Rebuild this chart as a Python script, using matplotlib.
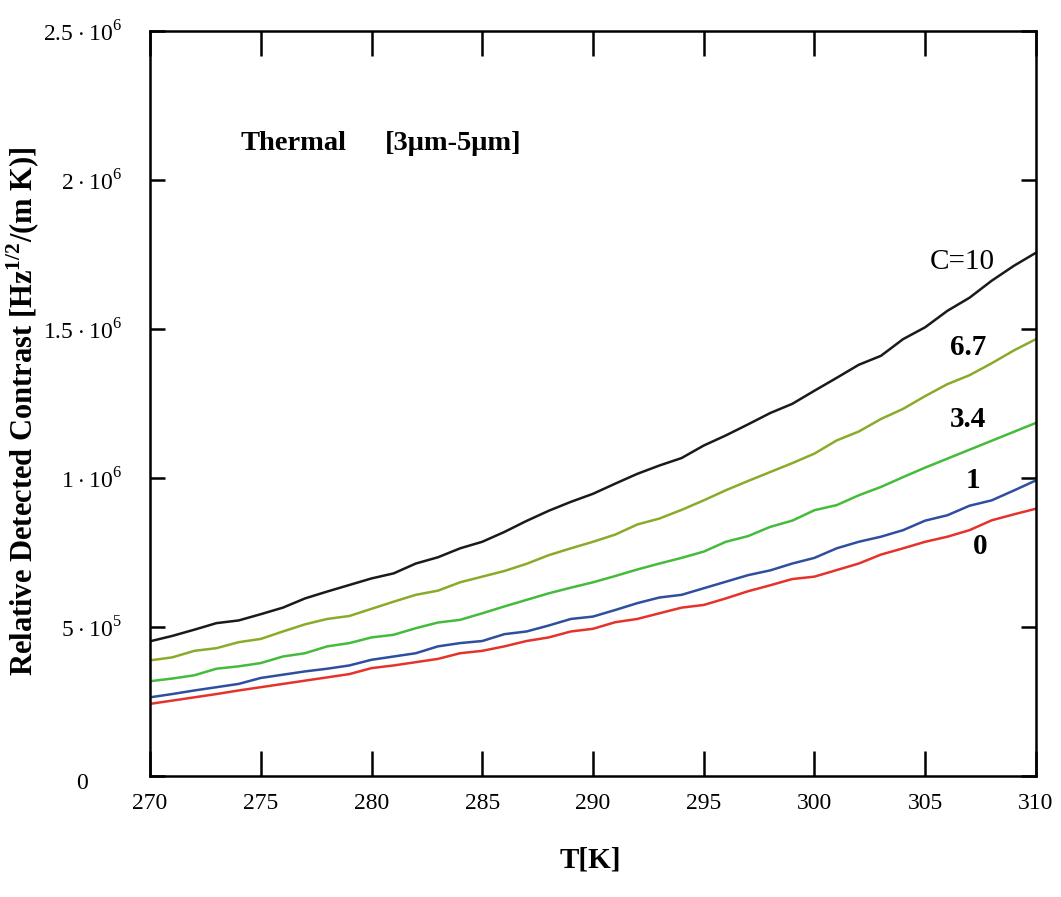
import numpy as np
import matplotlib
matplotlib.use("Agg")
import matplotlib.pyplot as plt
from matplotlib.transforms import ScaledTranslation

plt.rcParams['font.family'] = ['Liberation Serif', 'DejaVu Serif']
plt.rcParams['mathtext.fontset'] = 'custom'
plt.rcParams['mathtext.rm'] = 'Liberation Serif'
plt.rcParams['mathtext.bf'] = 'Liberation Serif:bold'

# temperature [K]
T = np.arange(270, 311)

# relative detected contrast, units of 1e6
c10 = [0.452, 0.470, 0.491, 0.513, 0.522, 0.543, 0.565, 0.596, 0.619, 0.641,
       0.663, 0.680, 0.713, 0.734, 0.764, 0.786, 0.819, 0.856, 0.890, 0.920,
       0.947, 0.981, 1.014, 1.042, 1.067, 1.109, 1.143, 1.180, 1.218, 1.249,
       1.293, 1.336, 1.380, 1.410, 1.466, 1.506, 1.561, 1.605, 1.662, 1.712, 1.756]
c67 = [0.388, 0.398, 0.420, 0.429, 0.449, 0.460, 0.485, 0.509, 0.527, 0.537,
       0.561, 0.585, 0.608, 0.622, 0.650, 0.669, 0.688, 0.712, 0.741, 0.764,
       0.786, 0.810, 0.844, 0.864, 0.893, 0.925, 0.959, 0.990, 1.020, 1.050,
       1.082, 1.126, 1.156, 1.198, 1.232, 1.275, 1.315, 1.345, 1.385, 1.428, 1.466]
c34 = [0.318, 0.327, 0.338, 0.360, 0.368, 0.379, 0.401, 0.412, 0.435, 0.446,
       0.465, 0.474, 0.496, 0.515, 0.524, 0.546, 0.569, 0.591, 0.613, 0.632,
       0.650, 0.671, 0.693, 0.713, 0.732, 0.753, 0.786, 0.805, 0.836, 0.857,
       0.892, 0.909, 0.942, 0.970, 1.003, 1.035, 1.065, 1.095, 1.125, 1.155, 1.185]
c1 = [0.264, 0.275, 0.287, 0.298, 0.309, 0.329, 0.340, 0.351, 0.360, 0.371,
      0.390, 0.401, 0.412, 0.435, 0.446, 0.453, 0.476, 0.485, 0.505, 0.527,
      0.535, 0.557, 0.580, 0.599, 0.608, 0.630, 0.652, 0.674, 0.690, 0.713,
      0.732, 0.764, 0.786, 0.803, 0.825, 0.857, 0.875, 0.907, 0.925, 0.958, 0.992]
c0 = [0.242, 0.253, 0.264, 0.275, 0.287, 0.298, 0.309, 0.320, 0.331, 0.342,
      0.362, 0.371, 0.382, 0.393, 0.412, 0.420, 0.435, 0.453, 0.465, 0.485,
      0.494, 0.516, 0.527, 0.546, 0.565, 0.574, 0.596, 0.620, 0.640, 0.661,
      0.669, 0.691, 0.713, 0.743, 0.764, 0.786, 0.803, 0.825, 0.858, 0.878, 0.897]

series = [c10, c67, c34, c1, c0]
colors = ['#1a1a1a', '#8aab2a', '#45bb3c', '#2e4f9e', '#e5332c']
labels = ['C=10', '6.7', '3.4', '1', '0']
label_pos = [(306.66, 1.726), (306.93, 1.438), (306.93, 1.197), (307.16, 0.993), (307.47, 0.769)]

yticks = [0, 0.5e6, 1e6, 1.5e6, 2e6, 2.5e6]
yticklabels = ['0', r'$5\cdot10^{5}$', r'$1\cdot10^{6}$', r'$1.5\cdot10^{6}$',
               r'$2\cdot10^{6}$', r'$2.5\cdot10^{6}$']

fig = plt.figure(figsize=(10.61, 8.97), dpi=100)
ax = fig.add_axes([0.1414, 0.1349, 0.835, 0.8305])

for ys, col in zip(series, colors):
    ax.plot(T, np.array(ys) * 1e6, color=col, lw=1.8)

for lab, (px, py) in zip(labels, label_pos):
    ax.text(px, py * 1e6, lab, ha='center', va='center', fontsize=21,
            fontweight='normal' if lab.startswith('C') else 'bold')

ax.text(274.1, 2.124e6, 'Thermal', ha='left', va='center', fontsize=20.5, fontweight='bold')
ax.text(280.6, 2.124e6, '[3\u03bcm-5\u03bcm]', ha='left', va='center', fontsize=20.5, fontweight='bold')

ax.set_xlim(270, 310)
ax.set_ylim(0, 2.5e6)
ax.set_xticks(np.arange(270, 311, 5))
ax.set_yticks(yticks)
ax.set_yticklabels(yticklabels)
ax.tick_params(axis='x', direction='in', length=18, width=1.8, top=True, labelsize=17, pad=12)
ax.tick_params(axis='y', direction='in', length=11, width=1.8, right=True, labelsize=17, pad=20)
for s in ax.spines.values():
    s.set_linewidth(1.8)

# the "0" label sits further left and a bit lower in the original
zero = ax.get_yticklabels()[0]
zero.set_transform(zero.get_transform() + ScaledTranslation(-0.34, -0.05, fig.dpi_scale_trans))

ax.set_xlabel('T[K]', fontsize=21, fontweight='bold', labelpad=10)
ax.xaxis.set_label_coords(0.497, -0.095)
ax.set_ylabel(r'Relative Detected Contrast [Hz$^{\mathbf{1/2}}$/(m K)]', fontsize=22,
              fontweight='bold')
ax.yaxis.set_label_coords(-0.122, 0.49)

fig.savefig('out.png', dpi=100)
